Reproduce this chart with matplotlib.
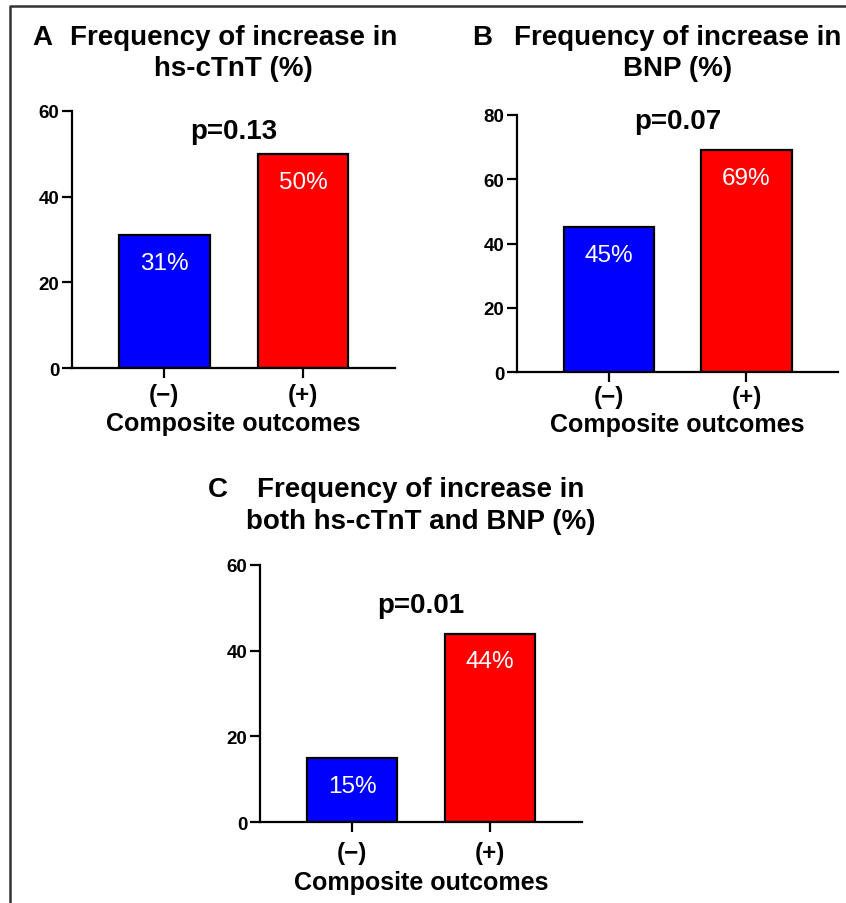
import matplotlib.pyplot as plt
from matplotlib.lines import Line2D

plt.rcParams['font.family'] = ['Liberation Sans', 'DejaVu Sans']

groups = ["(\u2212)", "(+)"]
xlabel = "Composite outcomes"
colors = ["#0000FF", "#FF0000"]

panel_letters = ["A", "B", "C"]
titles = [
    ["Frequency of increase in", "hs-cTnT (%)"],
    ["Frequency of increase in", "BNP (%)"],
    ["Frequency of increase in", "both hs-cTnT and BNP (%)"],
]
values_a = [31, 50]
values_b = [45, 69]
values_c = [15, 44]
p_values = ["p=0.13", "p=0.07", "p=0.01"]
ymax = [60, 80, 60]
yticks = [[0, 20, 40, 60], [0, 20, 40, 60, 80], [0, 20, 40, 60]]

W, H = 846, 904
fig = plt.figure(figsize=(W / 100, H / 100), dpi=100)


def fx(x):
    return x / W


def fy(y):
    return 1 - y / H


# axes boxes in pixels: left, right, top, bottom
boxes = [(72, 395, 112, 369), (517, 838, 116, 373), (260, 582, 566, 823)]
# title baselines / letter x in pixels
title_y = [(45, 76), (45, 76), (497, 529)]
letter_x = [32, 472, 208]
p_y = [132, 122, 606]
tick_pad = [3.5, 2.5, 7]
label_pad = [4, 2.5, 4]

for i, vals in enumerate([values_a, values_b, values_c]):
    l, r, t, b = boxes[i]
    ax = fig.add_axes([fx(l), fy(b), fx(r) - fx(l), fy(t) - fy(b)])
    ax.bar([0, 1], vals, width=0.655, color=colors, edgecolor="black", linewidth=1.6)
    ax.set_xlim(-0.667, 1.665)
    ax.set_ylim(0, ymax[i])
    ax.set_yticks(yticks[i])
    ax.set_xticks([0, 1])
    ax.set_xticklabels(groups, fontsize=17.5, fontweight="bold")
    ax.set_xlabel(xlabel, fontsize=18, fontweight="bold", labelpad=label_pad[i])
    for lab in ax.get_yticklabels():
        lab.set_fontweight("bold")
    ax.tick_params(axis="y", labelsize=13.5, length=7, width=1.6, pad=2)
    ax.tick_params(axis="x", length=7, width=1.6, pad=tick_pad[i])
    for s in ["top", "right"]:
        ax.spines[s].set_visible(False)
    for s in ["left", "bottom"]:
        ax.spines[s].set_linewidth(1.6)
    ax.patch.set_alpha(0)

    for j, v in enumerate(vals):
        ax.annotate(f"{v}%", (j, v), xytext=(0, -20), textcoords="offset points",
                    ha="center", va="center", color="white", fontsize=17.5)

    cx = (l + r) / 2
    fig.text(fx(cx), fy(p_y[i]), p_values[i], ha="center", va="center",
             fontsize=20, fontweight="bold")
    fig.text(fx(cx), fy(title_y[i][0]), titles[i][0], ha="center", va="baseline",
             fontsize=20, fontweight="bold")
    fig.text(fx(cx), fy(title_y[i][1]), titles[i][1], ha="center", va="baseline",
             fontsize=20, fontweight="bold")
    fig.text(fx(letter_x[i]), fy(title_y[i][0]), panel_letters[i], ha="left",
             va="baseline", fontsize=20, fontweight="bold")

# outer frame (left and top edges)
fig.add_artist(Line2D([fx(10), fx(10), fx(W + 5)], [fy(H + 5), fy(7), fy(7)],
                      color="#333333", linewidth=1.8))

fig.savefig("out.png", dpi=100)
